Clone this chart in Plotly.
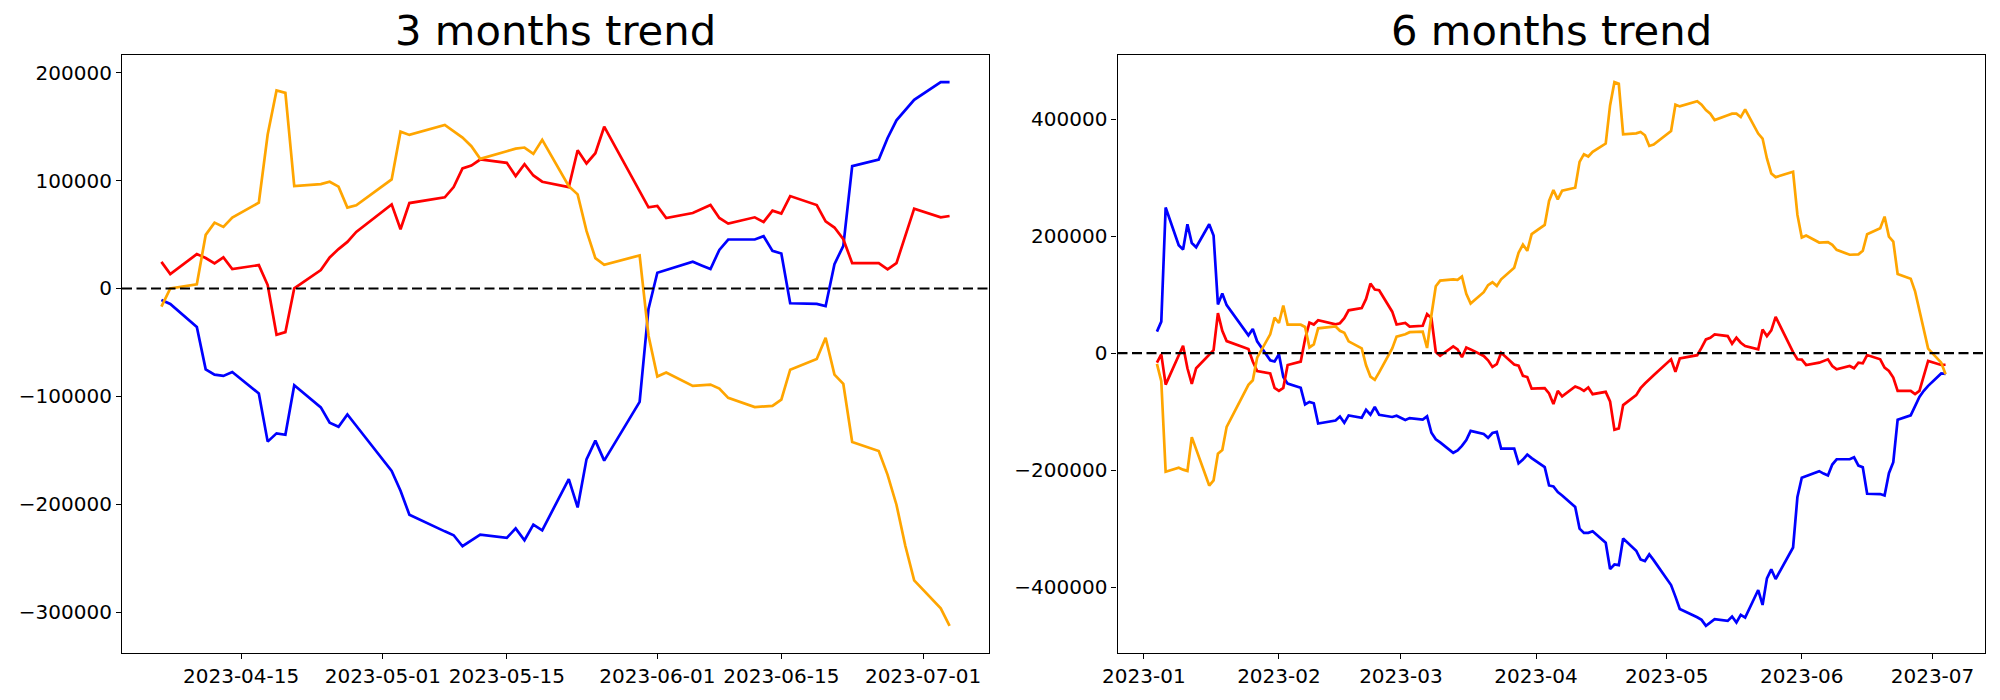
import plotly.graph_objects as go

# ---------------- data: 3 months ----------------
dates_3m = [
    "2023-04-06", "2023-04-07", "2023-04-10", "2023-04-11", "2023-04-12", "2023-04-13", "2023-04-14",
    "2023-04-17", "2023-04-18", "2023-04-19", "2023-04-20", "2023-04-21", "2023-04-24", "2023-04-25",
    "2023-04-26", "2023-04-27", "2023-04-28",
    "2023-05-02", "2023-05-03", "2023-05-04", "2023-05-08", "2023-05-09", "2023-05-10", "2023-05-11",
    "2023-05-12", "2023-05-15", "2023-05-16", "2023-05-17", "2023-05-18", "2023-05-19", "2023-05-22",
    "2023-05-23", "2023-05-24", "2023-05-25", "2023-05-26", "2023-05-30", "2023-05-31",
    "2023-06-01", "2023-06-02", "2023-06-05", "2023-06-06", "2023-06-07", "2023-06-08", "2023-06-09",
    "2023-06-12", "2023-06-13", "2023-06-14", "2023-06-15", "2023-06-16", "2023-06-19", "2023-06-20",
    "2023-06-21", "2023-06-22", "2023-06-23", "2023-06-26", "2023-06-27", "2023-06-28", "2023-06-29",
    "2023-06-30", "2023-07-03", "2023-07-04",
]
blue_3m = [
    -10600, -14300, -35800, -75000, -79900, -81100, -77400, -97400, -142000, -134300, -135600, -89700,
    -110300, -124500, -128200, -116800, -127300,
    -169100, -187600, -209800, -225200, -228800, -239000, -233200, -228200, -231300, -222400, -233400,
    -219000, -224200, -176800, -203000, -158400, -141100, -159600, -105100, -18900,
    14600, 17100, 24800, 21400, 18000, 35800, 45400, 45400, 48500, 34900, 32500, -13700, -14300, -16400,
    22600, 39500, 113400, 119600, 139600, 155900, 165700, 175000,
    191300, 191300,
]
red_3m = [
    24700, 13400, 31900, 28200, 23200, 28800, 18000, 21700, 3200, -42900, -40500, 200,
    17100, 28800, 36500, 43200, 52500,
    78000, 54900, 79200, 84500, 94000, 111300, 114000, 119600, 116500, 104200, 115300,
    104800, 99000, 94000, 128200, 115900, 125400, 150000, 91100, 75300,
    76500, 65400, 70000, 73700, 77400, 65400, 60200, 66000, 61700, 72200, 69400, 85700, 77400, 62300,
    56500, 45700, 23500, 23500, 17700, 23500, 48800, 74000,
    66000, 67200,
]
orange_3m = [
    -16800, 0, 3900, 49700, 61100, 57100, 65700, 79600, 142700, 183600, 181400, 94900,
    96800, 99000, 94400, 75000, 77100,
    101100, 145400, 142400, 151600, 146000, 139900, 131900, 120200, 127300, 129700, 130700,
    124800, 137800, 94900, 87300, 53400, 28200, 22000, 30700, -43600,
    -81700, -78000, -90300, -89700, -89100, -92800, -101400, -110000, -109400, -108800, -103000,
    -75300, -65400, -45700, -79900, -88500, -142400, -150700, -172800, -200500, -238600, -270700,
    -296600, -312800,
]

# ---------------- data: 6 months ----------------
dates_6m = [
    "2023-01-04", "2023-01-05", "2023-01-06", "2023-01-09", "2023-01-10", "2023-01-11", "2023-01-12",
    "2023-01-13", "2023-01-16", "2023-01-17", "2023-01-18", "2023-01-19", "2023-01-20", "2023-01-25",
    "2023-01-26", "2023-01-27", "2023-01-30", "2023-01-31",
    "2023-02-01", "2023-02-02", "2023-02-03", "2023-02-06", "2023-02-07", "2023-02-08", "2023-02-09",
    "2023-02-10", "2023-02-14", "2023-02-15", "2023-02-16", "2023-02-17", "2023-02-20", "2023-02-21",
    "2023-02-22", "2023-02-23", "2023-02-24", "2023-02-27", "2023-02-28",
    "2023-03-02", "2023-03-03", "2023-03-06", "2023-03-07", "2023-03-08", "2023-03-09", "2023-03-10",
    "2023-03-13", "2023-03-14", "2023-03-15", "2023-03-16", "2023-03-17", "2023-03-20", "2023-03-21",
    "2023-03-22", "2023-03-23", "2023-03-24", "2023-03-27", "2023-03-28", "2023-03-29", "2023-03-30",
    "2023-03-31",
    "2023-04-03", "2023-04-04", "2023-04-05",
] + dates_3m
blue_6m = [
    36600, 53700, 248700, 184200, 177100, 220200, 188000, 180800, 220200, 201000, 83100, 101700,
    81900, 30200, 41000, 20100, -12500, -14500,
    -2100, -40800, -52300, -59500, -88000, -83600, -85800, -120500, -115300, -108500, -119300,
    -106600, -110600, -97000, -105300, -92300, -105600, -109300, -107200,
    -114600, -111200, -113700, -108200, -136300, -147500, -152800, -170500, -166500, -158800,
    -148900, -133000, -138500, -145000, -136700, -134800, -163300, -163300, -188700, -182200,
    -173500, -179700,
    -195100, -226400, -228100,
    -237600, -243400, -263200, -300100, -307400, -307400, -304600, -324400, -369300, -361400,
    -362500, -317100, -338000, -352800, -355600, -344300, -354000,
    -396600, -416400, -437400, -451600, -456100, -466300, -460400, -455000, -457800, -450400,
    -460600, -447600, -452200, -405100, -430600, -385200, -369900, -386300, -332400, -246100,
    -213300, -210300, -201900, -206100, -209300, -190600, -181600, -181600, -178200, -192400,
    -195100, -240500, -241100, -243400, -205300, -186600, -114000, -106600, -90200, -74900,
    -64600, -56100,
    -35000, -35500,
]
red_6m = [
    -16500, -2200, -54000, -4000, 12500, -26000, -52600, -26000, -3400, 4800, 68200, 38000,
    20400, 7000, -14500, -31000, -35000, -59500,
    -64500, -59500, -20400, -14600, 23900, 52000, 48700, 56000, 49000, 51000, 59500, 73000,
    77000, 92500, 118800, 108500, 107400, 70700, 48800,
    51500, 45300, 46600, 66600, 59700, 1800, -4600, 11200, 6200, -7100, 9300, 6200, -5000,
    -12500, -23700, -19100, 300, -19800, -21600, -39000, -41000, -61000,
    -60100, -69100, -87300,
    -64600, -74200, -57200, -60100, -64600, -58900, -70300, -66300, -82700, -131100, -128800,
    -89000, -72000, -60100, -52100, -44800, -38000,
    -10700, -32300, -9400, -3700, 9200, 23300, 26100, 31800, 29000, 16000, 26100, 17600, 11900,
    6200, 40300, 29000, 38600, 61900, 1500, -10700,
    -11300, -20400, -16500, -14000, -10700, -22100, -27800, -22100, -26100, -16500, -17500,
    -3400, -10700, -24900, -30600, -41900, -64600, -64600, -70300, -64600, -38000, -13600,
    -20400, -20000,
]
orange_6m = [
    -18500, -48100, -203000, -196000, -199300, -201500, -143800, -164900, -226500, -217600,
    -172000, -165800, -126200, -54300, -46500, -8000, 32000, 60500,
    51300, 81200, 48400, 48400, 44500, 9700, 14900, 42200, 45300, 38000, 34800, 20000, 8000,
    -21000, -40200, -45800, -33100, 8000, 28000,
    32000, 35600, 36600, 8600, 65000, 114100, 123800, 126000, 125000, 130800, 101200, 84700,
    104000, 116100, 121000, 114800, 126000, 145800, 171500, 185400, 174700, 203200,
    219000, 259900, 278600,
    262800, 277400, 282600, 326800, 339900, 336000, 343800, 358100, 423300, 463000, 460200,
    373900, 375600, 377900, 372200, 354000, 356300,
    379600, 424500, 421600, 430600, 424500, 415300, 409200, 398300, 406400, 409200, 409200,
    403400, 416500, 375100, 366600, 332600, 307000, 300700, 309800, 236100,
    197400, 200800, 188900, 189300, 189600, 185000, 176500, 168000, 168300, 168600, 174800,
    203200, 213400, 233200, 199100, 190600, 135100, 127100, 105500, 74400, 40300, 7500,
    -16400, -36300,
]

titles = ["3 months trend", "6 months trend"]
xticks_3m = ["2023-04-15", "2023-05-01", "2023-05-15", "2023-06-01", "2023-06-15", "2023-07-01"]
xticks_6m = ["2023-01-01", "2023-02-01", "2023-03-01", "2023-04-01", "2023-05-01", "2023-06-01", "2023-07-01"]
xticklabels_6m = ["2023-01", "2023-02", "2023-03", "2023-04", "2023-05", "2023-06", "2023-07"]
yticks_3m = [-300000, -200000, -100000, 0, 100000, 200000]
yticks_6m = [-400000, -200000, 0, 200000, 400000]

colors = {"blue": "#0000ff", "red": "#ff0000", "orange": "#ffa500"}


def fmt(v):
    return ("\u2212" + str(-v)) if v < 0 else str(v)


fig = go.Figure()
for xs, series, ax in [
    (dates_3m, [blue_3m, red_3m, orange_3m], ("x", "y")),
    (dates_6m, [blue_6m, red_6m, orange_6m], ("x2", "y2")),
]:
    for vals, c in zip(series, ["blue", "red", "orange"]):
        fig.add_trace(go.Scatter(
            x=xs, y=vals, mode="lines", xaxis=ax[0], yaxis=ax[1],
            line=dict(color=colors[c], width=2.7), showlegend=False, hoverinfo="skip",
        ))

# zero lines
for xr, yr in [("x domain", "y"), ("x2 domain", "y2")]:
    fig.add_shape(type="line", xref=xr, yref=yr, x0=0, x1=1, y0=0, y1=0,
                  line=dict(color="black", width=2.2, dash="10px,4.5px"), layer="above")

FONT = "DejaVu Sans"
axis_common = dict(
    showgrid=False, zeroline=False, showline=True, linecolor="black", linewidth=1.1,
    mirror=True, ticks="outside", ticklen=5, tickwidth=1.1, tickcolor="black",
    tickfont=dict(family=FONT, size=20, color="black"),
)

D1 = 867.0 / 1863.0
D2 = (1117.5 - 122.0) / 1863.0

fig.update_layout(
    width=2000, height=700,
    margin=dict(l=122, r=15, t=55, b=45),
    paper_bgcolor="white", plot_bgcolor="white",
    font=dict(family=FONT, color="black"),
    xaxis=dict(domain=[0, D1], type="date",
               range=["2023-04-01 13:12", "2023-07-08 10:48"],
               tickvals=xticks_3m, ticktext=xticks_3m, **axis_common),
    yaxis=dict(range=[-338005, 216505], tickvals=yticks_3m,
               ticktext=[fmt(v) for v in yticks_3m], **axis_common),
    xaxis2=dict(domain=[D2, 1], type="date", anchor="y2",
                range=["2022-12-25 22:48", "2023-07-13 01:12"],
                tickvals=xticks_6m, ticktext=xticklabels_6m, **axis_common),
    yaxis2=dict(anchor="x2", range=[-512765, 509465], tickvals=yticks_6m,
                ticktext=[fmt(v) for v in yticks_6m], **axis_common),
)

for i, t in enumerate(titles):
    fig.add_annotation(text=t, xref="paper", yref="paper",
                       x=(D1 / 2) if i == 0 else (D2 + 1) / 2, y=1,
                       xanchor="center", yanchor="bottom", yshift=-2, showarrow=False,
                       font=dict(family=FONT, size=41.7, color="black"))

fig.write_html("out.html", config={"displayModeBar": False},
               post_script="document.body.style.margin='0';document.body.style.overflow='hidden';")
